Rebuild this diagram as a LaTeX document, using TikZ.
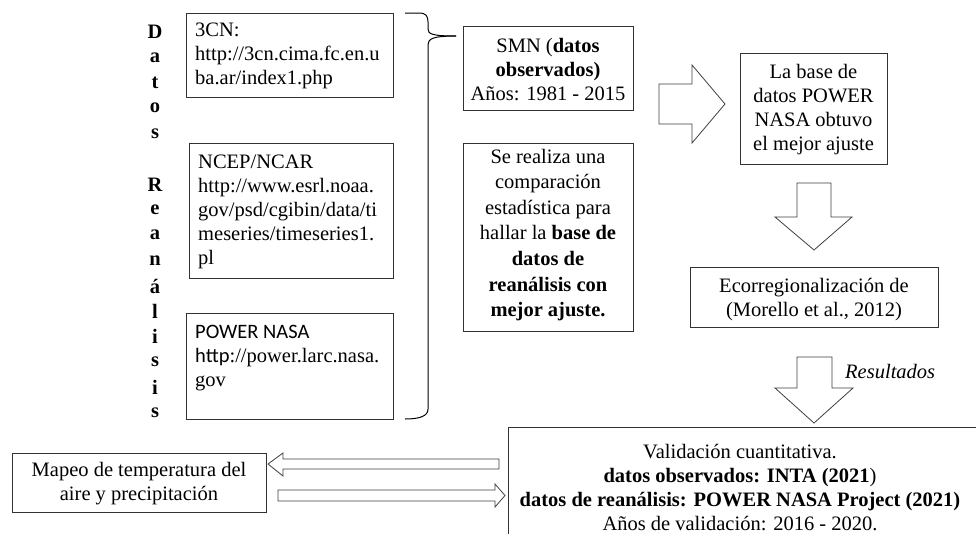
\documentclass[tikz,border=0pt]{standalone}
\usepackage{fontspec}
\setmainfont{Liberation Serif}
\newfontfamily\carlito{Carlito}
\begin{document}
\begin{tikzpicture}[x=1pt,y=-1pt,
  box/.style={draw=black!80, line width=0.8pt, inner sep=0pt, fill=white},
  txt/.style={font=\fontsize{20.5}{24}\selectfont, inner sep=0pt},
  letter/.style={font=\fontsize{20.5}{24}\selectfont\bfseries, inner sep=0pt},
  fat/.style={draw=black!75, line width=0.8pt, fill=white, line join=miter},
  brace/.style={draw=black, line width=1pt}]
\clip (0,0) rectangle (976,533);
\fill[white] (0,0) rectangle (976,533);

% vertical title
\foreach \l [count=\i] in {D,a,t,o,s,{},R,e,a,n,á,l,i,s,i,s}
  \node[letter] (L\i) at (155,{32+25.4*(\i-1)}) {\l};

% reanalysis source boxes
\node[box, minimum width=207, minimum height=84] (b3cn) at (289.5,55) {};
\node[txt, align=left, anchor=west] (t3cn) at (195,56) {3CN:\\http://3cn.cima.fc.en.u\\ba.ar/index1.php};

\node[box, minimum width=204, minimum height=135] (bncep) at (291,210.5) {};
\node[txt, align=left, anchor=west] (tncep) at (198,211.5) {NCEP/NCAR\\http://www.esrl.noaa.\\gov/psd/cgibin/data/ti\\meseries/timeseries1.\\pl};

\node[box, minimum width=207, minimum height=106] (bpow) at (289.5,366) {};
\node[txt, align=left, anchor=west] (tpow) at (195,358) {{\carlito POWER NASA}\\{\carlito http}://power.larc.nasa.\\gov};

% brace
\coordinate (brtip) at (456,36);
\draw[brace] (405,13) -- (419,13) .. controls (426,13) and (428,16) .. (428,22) -- (428,29)
  .. controls (428,34) and (432,36) .. (brtip);
\draw[brace] (brtip) .. controls (432,36) and (428,39) .. (428,45) -- (428,409)
  .. controls (428,416) and (420,419) .. (405,419);

% middle column
\node[box, minimum width=170, minimum height=84] (bsmn) at (548,68) {};
\node[txt, align=center] (tsmn) at (548,70) {SMN (\textbf{datos}\\\textbf{observados)}\\Años: 1981 - 2015};

\node[box, minimum width=170, minimum height=188] (bcomp) at (548,237) {};
\node[txt, align=center, font=\fontsize{20.5}{25.6}\selectfont] (tcomp) at (548,235) {Se realiza una\\comparación\\estadística para\\hallar la \textbf{base de}\\\textbf{datos de}\\\textbf{reanálisis con}\\\textbf{mejor ajuste.}};

% right column
\node[box, minimum width=147, minimum height=111] (bbase) at (813.5,108.5) {};
\node[txt, align=center] (tbase) at (813.5,110) {La base de\\datos POWER\\NASA obtuvo\\el mejor ajuste};

\node[box, minimum width=248, minimum height=60] (beco) at (814,297) {};
\node[txt, align=center] (teco) at (814,300) {Ecorregionalización de\\(Morello et al., 2012)};

\node[box, minimum width=492, minimum height=133] (bval) at (754,493.5) {};
\node[txt, align=center] (tval) at (740,488) {Validación cuantitativa.\\\textbf{datos observados: INTA (2021}{)}\\\textbf{datos de reanálisis: POWER NASA Project (2021)}\\Años de validación: 2016 - 2020.};

\node[box, minimum width=254, minimum height=59] (bmap) at (139,482.5) {};
\node[txt, align=center] (tmap) at (139,483.5) {Mapeo de temperatura del\\aire y precipitación};

\node[txt, font=\fontsize{20.5}{24}\selectfont\itshape, anchor=west] (res) at (845,372) {Resultados};

% block arrows
\draw[fat] (659,84) -- (692,84) -- (692,65) -- (725,104) -- (692,143) -- (692,124) -- (659,124) -- cycle;
\draw[fat] (797,183) -- (831,183) -- (831,217) -- (852,217) -- (814,250) -- (775,217) -- (797,217) -- cycle;
\draw[fat] (797,357) -- (832,357) -- (832,388) -- (853,388) -- (814,423) -- (775,388) -- (797,388) -- cycle;
\draw[fat] (499,459) -- (283,459) -- (283,453) -- (268,464) -- (283,476) -- (283,469) -- (499,469) -- cycle;
\draw[fat] (278,490) -- (495,490) -- (495,484) -- (505,495.5) -- (495,507) -- (495,501) -- (278,501) -- cycle;
\end{tikzpicture}
\end{document}
